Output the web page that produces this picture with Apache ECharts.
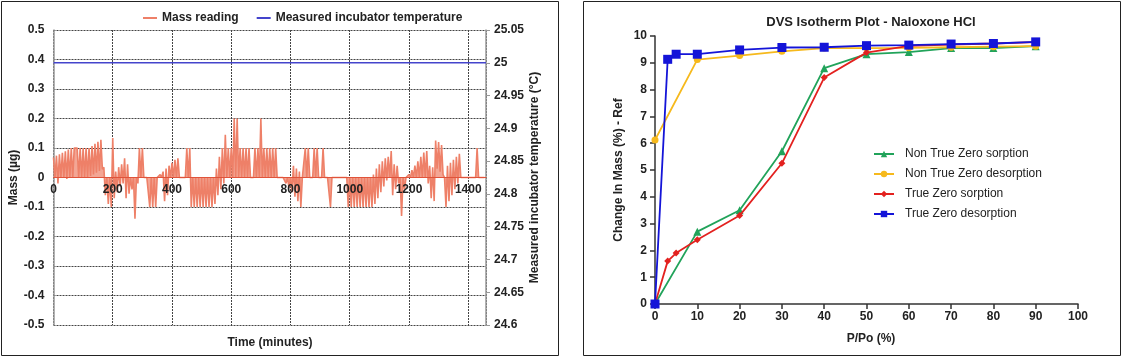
<!DOCTYPE html>
<html>
<head>
<meta charset="utf-8">
<script src="https://cdn.jsdelivr.net/npm/echarts@6/dist/echarts.min.js"></script>
<style>
html,body{margin:0;padding:0;background:#fff;}
#c{width:1124px;height:358px;}
</style>
</head>
<body>
<div id="c"></div>
<script>
// ---------- Left chart data (mass reading: peak at t, base at t+5 min) ----------
const massPairStep = 10; // minutes between successive peak samples
const massPeaks = [
  0.068,0.074,0.079,0.084,0.089,0.095,0.1,0.1,0.1,0.1,
  0.1,0.1,0.1,0.107,0.114,0.121,0.128,0.035,0,0,
  0.134,0.02,0.035,0.045,0.065,0.045,0,0,0,0.1,
  0.1,0,0,0,0,0,0.01,0.02,0.03,0.04,
  0.05,0.06,0.065,0,0,0.1,0.1,0,0,0,
  0,0,0,0,0,0.03,0.07,0.1,0.145,0.1,
  0.1,0.2,0.2,0.1,0.1,0.1,0.1,0,0.1,0.1,
  0.2,0.1,0.1,0.1,0.1,0.1,0,0,0,0,
  0,0.04,0.03,0.02,0,0.1,0.1,0,0.1,0.1,
  0,0.1,0,0,0,0,0,0,0,0,
  0,0,0,0,0,0,0,0,0.01,0.03,
  0.045,0.055,0.065,0.07,0.09,0.045,0.04,0,0,0,
  0.01,0.025,0.04,0.055,0.07,0.085,0.09,0.04,0.035,0.125,
  0.12,0.11,0,0.04,0.05,0.06,0.07,0.08,0,0,
  0,0,0,0.1,0,0
];
const massBases = [
  0,-0.02,0,0,-0.005,0,0,0.1,0,0,
  0,0,0.005,0.01,0.016,0.022,0.028,-0.06,-0.09,-0.1,
  -0.07,-0.05,-0.03,-0.02,-0.07,-0.055,-0.04,-0.14,-0.02,0,
  0,0,-0.1,-0.1,-0.1,0,0,-0.08,-0.06,0,
  0,0,0,0,0,0,-0.1,-0.1,-0.1,-0.1,
  -0.1,-0.1,-0.1,-0.1,-0.09,-0.06,-0.04,-0.02,0,0,
  0,0,0,0,0,0,0,0,0,0,
  0,0,0,0,0,0,0,0,-0.02,-0.035,
  -0.05,-0.065,-0.08,-0.1,0,0,0,0,0,0,
  0,0,0,-0.1,0,0,0,0,0,-0.1,
  -0.1,-0.1,-0.1,-0.1,-0.1,-0.1,-0.1,-0.1,-0.09,-0.07,
  -0.05,-0.03,-0.01,0,-0.06,-0.04,-0.02,-0.13,-0.04,0,
  0,0,0,0,0,0,-0.02,-0.07,-0.08,0.03,
  0.02,0.01,-0.1,-0.08,-0.06,-0.04,-0.02,0,0,0,
  0,0,0,0,0,0
];
const tempTimes = [0, 1460];
const tempValues = [25, 25];

// ---------- Right chart data ----------
const ntzSorpX = [0,10,20,30,40,50,60,70,80,90];
const ntzSorpY = [0,2.7,3.5,5.7,8.8,9.32,9.4,9.55,9.55,9.62];
const ntzDesX  = [90,80,70,60,50,40,30,20,10,0];
const ntzDesY  = [9.62,9.6,9.58,9.56,9.55,9.55,9.43,9.27,9.12,6.12];
const tzSorpX  = [0,3,5,10,20,30,40,50,60,70,80,90];
const tzSorpY  = [0,1.6,1.9,2.4,3.3,5.25,8.45,9.38,9.63,9.68,9.72,9.77];
const tzDesX   = [90,80,70,60,50,40,30,20,10,5,3,0];
const tzDesY   = [9.78,9.72,9.7,9.66,9.64,9.58,9.57,9.48,9.32,9.32,9.13,0];

const zip = (xs, ys) => xs.map((x, i) => [x, ys[i]]);
const massData = [];
massPeaks.forEach((p, k) => {
  massData.push([k * massPairStep, p]);
  massData.push([k * massPairStep + massPairStep / 2, massBases[k]]);
});

const FONT = 'Liberation Sans, Arial, sans-serif';
const chart = echarts.init(document.getElementById('c'), null, {renderer: 'canvas'});
const gridLine = {show: true, lineStyle: {color: '#444', type: [2, 1], width: 1}};
const boldLbl = {color: '#222', fontFamily: FONT, fontWeight: 'bold', fontSize: 12};

chart.setOption({
  animation: false,
  textStyle: {fontFamily: FONT},
  title: [
    {text: 'Time (minutes)', left: 265, top: 332, textAlign: 'center',
     textStyle: {fontSize: 12, fontWeight: 'bold', color: '#222', fontFamily: FONT}},
    {text: 'DVS Isotherm Plot - Naloxone HCl', left: 866, top: 11, textAlign: 'center',
     textStyle: {fontSize: 13, fontWeight: 'bold', color: '#222', fontFamily: FONT}},
    {text: 'P/Po (%)', left: 866, top: 328, textAlign: 'center',
     textStyle: {fontSize: 12, fontWeight: 'bold', color: '#222', fontFamily: FONT}}
  ],
  legend: [
    {data: ['Mass reading', 'Measured incubator temperature'], left: 138, top: 7,
     icon: 'rect', itemWidth: 14, itemHeight: 2, itemGap: 18,
     textStyle: {fontSize: 12, fontWeight: 'bold', color: '#222', fontFamily: FONT}},
    {data: ['Non True Zero sorption', 'Non True Zero desorption', 'True Zero sorption', 'True Zero desorption'],
     orient: 'vertical', left: 868, top: 143, itemGap: 8, itemWidth: 20, itemHeight: 8,
     textStyle: {fontSize: 12, color: '#222', fontFamily: FONT, padding: [0, 0, 0, 6]}}
  ],
  grid: [
    {left: 53.5, right: 638, top: 30, bottom: 33},
    {left: 655, right: 46, top: 36, bottom: 54},
    // label-only band whose bottom edge sits on the mass zero line
    {left: 53.5, right: 638, top: 30, height: 147.5}
  ],
  xAxis: [
    {gridIndex: 0, type: 'value', min: 0, max: 1460, interval: 200,
     axisLine: {show: false}, axisTick: {show: false}, axisLabel: {show: false},
     splitLine: gridLine},
    {gridIndex: 1, type: 'value', min: 0, max: 100, interval: 10,
     axisLine: {show: true, onZero: false, lineStyle: {color: '#333', width: 1.5}},
     axisTick: {show: true, length: 5, lineStyle: {color: '#333', width: 1.5}},
     axisLabel: Object.assign({margin: 7}, boldLbl),
     splitLine: {show: false}},
    {gridIndex: 2, type: 'value', min: 0, max: 1460, interval: 200, position: 'bottom',
     axisLine: {show: true, onZero: false, lineStyle: {color: '#e0533a', width: 1}},
     axisTick: {show: false},
     axisLabel: Object.assign({margin: 6, showMaxLabel: false, formatter: v => String(v)}, boldLbl),
     splitLine: {show: false}, z: 5}
  ],
  yAxis: [
    {gridIndex: 0, type: 'value', min: -0.5, max: 0.5, interval: 0.1, position: 'left',
     name: 'Mass (µg)', nameLocation: 'middle', nameGap: 34,
     nameTextStyle: {fontSize: 12, fontWeight: 'bold', color: '#222', fontFamily: FONT},
     axisLine: {show: true, onZero: false, lineStyle: {color: '#999', width: 1.5}},
     axisTick: {show: false},
     axisLabel: Object.assign({margin: 9}, boldLbl),
     splitLine: gridLine},
    {gridIndex: 0, type: 'value', min: 24.6, max: 25.05, interval: 0.05, position: 'right',
     name: 'Measured incubator temperature (°C)', nameLocation: 'middle', nameGap: 43, nameRotate: 90,
     nameTextStyle: {fontSize: 12, fontWeight: 'bold', color: '#222', fontFamily: FONT},
     axisLine: {show: true, onZero: false, lineStyle: {color: '#999', width: 1.5}},
     axisTick: {show: true, length: 4, lineStyle: {color: '#999'}},
     axisLabel: Object.assign({margin: 8}, boldLbl),
     splitLine: {show: false}},
    {gridIndex: 1, type: 'value', min: 0, max: 10, interval: 1,
     name: 'Change In Mass (%) - Ref', nameLocation: 'middle', nameGap: 30,
     nameTextStyle: {fontSize: 12, fontWeight: 'bold', color: '#222', fontFamily: FONT},
     axisLine: {show: true, onZero: false, lineStyle: {color: '#333', width: 1.5}},
     axisTick: {show: true, length: 5, lineStyle: {color: '#333', width: 1.5}},
     axisLabel: Object.assign({margin: 8}, boldLbl),
     splitLine: {show: false}},
    {gridIndex: 2, type: 'value', min: 0, max: 1, show: false}
  ],
  series: [
    {name: 'Mass reading', type: 'line', xAxisIndex: 0, yAxisIndex: 0, data: massData,
     showSymbol: false, symbol: 'none', lineStyle: {color: '#ee8068', width: 1.6},
     areaStyle: {},
     itemStyle: {color: '#ee8068'}, z: 3},
    {name: 'Measured incubator temperature', type: 'line', xAxisIndex: 0, yAxisIndex: 1,
     data: zip(tempTimes, tempValues), symbol: 'none',
     lineStyle: {color: '#4444cc', width: 1.5}, itemStyle: {color: '#4444cc'}, z: 4},
    {name: 'Non True Zero sorption', type: 'line', xAxisIndex: 1, yAxisIndex: 2, data: zip(ntzSorpX, ntzSorpY),
     symbol: 'triangle', symbolSize: 8, lineStyle: {color: '#21a35a', width: 1.8}, itemStyle: {color: '#21a35a'}, z: 3},
    {name: 'Non True Zero desorption', type: 'line', xAxisIndex: 1, yAxisIndex: 2, data: zip(ntzDesX, ntzDesY),
     symbol: 'circle', symbolSize: 7, lineStyle: {color: '#f6b91c', width: 1.8}, itemStyle: {color: '#f6b91c'}, z: 4},
    {name: 'True Zero sorption', type: 'line', xAxisIndex: 1, yAxisIndex: 2, data: zip(tzSorpX, tzSorpY),
     symbol: 'diamond', symbolSize: 7, lineStyle: {color: '#e3211f', width: 1.8}, itemStyle: {color: '#e3211f'}, z: 5},
    {name: 'True Zero desorption', type: 'line', xAxisIndex: 1, yAxisIndex: 2, data: zip(tzDesX, tzDesY),
     symbol: 'rect', symbolSize: 9, lineStyle: {color: '#1414d8', width: 1.8}, itemStyle: {color: '#1414d8'}, z: 6}
  ],
  graphic: [
    {type: 'rect', shape: {x: 1.5, y: 1.5, width: 557, height: 354}, style: {fill: 'none', stroke: '#222', lineWidth: 1}, silent: true},
    {type: 'rect', shape: {x: 583.5, y: 1.5, width: 537, height: 354}, style: {fill: 'none', stroke: '#222', lineWidth: 1}, silent: true}
  ]
});
</script>
</body>
</html>
